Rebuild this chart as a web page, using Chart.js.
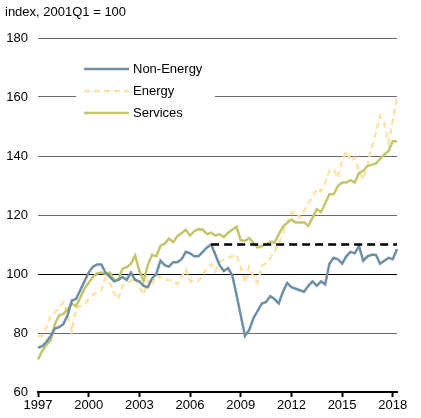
<!DOCTYPE html>
<html>
<head>
<meta charset="utf-8">
<script src="https://cdn.jsdelivr.net/npm/chart.js@4.4.1/dist/chart.umd.min.js"></script>
<style>
  body{margin:0;background:#fff;overflow:hidden;}
  #wrap{width:421px;height:418px;position:relative;}
</style>
</head>
<body>
<div id="wrap"><canvas id="chart"></canvas></div>
<script>
// quarterly, 1997Q1 - 2018Q2
let quarters = [];
for (let y = 1997; y <= 2018; y++) {
    for (let q = 1; q <= 4; q++) {
        if (y === 2018 && q > 2) { break; }
        quarters.push(y + "Q" + q);
    }
}

let tickYears = [1997, 2000, 2003, 2006, 2009, 2012, 2015, 2018];

let nonEnergy = [75, 75.5, 77, 79, 81.5, 82, 83, 86, 91, 91.5, 94.5, 97.5,
    100.5, 102.5, 103.2, 103.2, 100.5, 99, 97.5, 98, 99, 98, 100.5, 98,
    97.5, 96, 95.5, 98.5, 100, 104.5, 103, 102.5, 104, 104, 105, 107.5,
    107, 106, 106, 107.5, 109, 110, 106.5, 103, 101, 102, 99.5, 93,
    86, 79, 81, 85, 87.5, 90, 90.5, 92.5, 91.5, 90, 94, 97,
    95.5, 95, 94.5, 94, 96, 97.5, 96, 97.5, 96.5, 103.5, 105.5, 105,
    103.5, 106, 107.5, 107, 109.5, 104.5, 106, 106.5, 106.5, 103.5, 104.5, 105.5,
    105, 108.5];

let energy = [79, 79, 82, 86, 87, 88.5, 90.5, 86.5, 80.5, 88.5, 89, 90,
    91.5, 93, 93.7, 94.5, 98.8, 97, 93.5, 91.5, 96, 97, 97.6, 98.8,
    95.5, 93, 97.6, 96, 99.5, 99, 98.2, 98, 97.6, 96.5, 99, 101.6,
    97.5, 97.6, 97.6, 99.5, 102, 103.3, 101, 104, 105, 105.5, 106, 106.4,
    102.5, 97, 102.5, 99, 97, 102.7, 103.8, 105.5, 107.5, 110.5, 114, 117,
    120.8, 120.8, 119, 121.5, 124, 126, 129, 128, 131, 135, 135.5, 132.6,
    138.3, 141.7, 138.3, 139.4, 135, 132, 136.6, 142.8, 148, 153.6, 151.3, 144.5,
    152, 160];

let services = [71, 74, 76, 77.5, 83, 86, 86.5, 88, 90, 89, 92, 95,
    97, 99, 100.2, 100.5, 100, 100.5, 98, 98, 101.8, 102.3, 103.5, 106.3,
    101, 97.5, 103, 106.5, 106, 109.5, 110.3, 112, 110.8, 112.8, 113.8, 115,
    113, 114.5, 115.2, 115, 113.5, 114, 113, 113.5, 112.5, 114, 115, 116,
    111.5, 111.2, 112.2, 110.5, 109, 109.5, 110, 111, 110.6, 113.5, 116, 117.4,
    118.5, 117.5, 117.5, 117.5, 116.3, 119, 122, 121, 124, 127, 127, 129.8,
    131, 131, 131.8, 131, 134.3, 135, 136.6, 137, 137.5, 139, 140.5, 141.7,
    145, 145];

// pre-crisis peak of non-energy, carried forward
let refLevel = 110;
let refStart = "2007Q2";
let refLine = quarters.map(function(q, i){
    return i >= quarters.indexOf(refStart) ? refLevel : null;
});

let seriesNames = ["Non-Energy", "Energy", "Services"];
let colors = {
    nonEnergy: "#6f8fa4",
    energy: "#fde3a7",
    services: "#c3c66a"
};

const FONT = "'Liberation Sans', Arial, sans-serif";

// title + legend box drawn on the canvas
let decor = {
    id: "decor",
    afterDraw: function(chart){
        let ctx = chart.ctx;
        ctx.save();
        ctx.font = "13px " + FONT;
        ctx.fillStyle = "#000";
        ctx.textBaseline = "middle";
        ctx.textAlign = "left";
        ctx.fillText("index, 2001Q1 = 100", 5, 12);

        ctx.fillStyle = "#fff";
        ctx.fillRect(76, 56, 139, 68);

        let items = [
            {label: seriesNames[0], color: colors.nonEnergy, dash: []},
            {label: seriesNames[1], color: colors.energy, dash: [6, 4]},
            {label: seriesNames[2], color: colors.services, dash: []}
        ];
        items.forEach(function(it, k){
            let y = 69 + k * 22;
            ctx.beginPath();
            ctx.setLineDash(it.dash);
            ctx.lineWidth = 2.5;
            ctx.strokeStyle = it.color;
            ctx.moveTo(84, y);
            ctx.lineTo(129, y);
            ctx.stroke();
            ctx.setLineDash([]);
            ctx.fillStyle = "#000";
            ctx.fillText(it.label, 133, y);
        });
        ctx.restore();
    }
};

new Chart(document.getElementById("chart"), {
    type: "line",
    data: {
        labels: quarters,
        datasets: [
            {
                label: "ref",
                data: refLine,
                borderColor: "#000",
                borderWidth: 2.5,
                borderDash: [8, 5],
                pointRadius: 0,
                spanGaps: false
            },
            {
                label: seriesNames[0],
                data: nonEnergy,
                borderColor: colors.nonEnergy,
                borderWidth: 2.5,
                pointRadius: 0
            },
            {
                label: seriesNames[2],
                data: services,
                borderColor: colors.services,
                borderWidth: 2.5,
                pointRadius: 0
            },
            {
                label: seriesNames[1],
                data: energy,
                borderColor: colors.energy,
                borderWidth: 2.5,
                borderDash: [6, 4],
                pointRadius: 0
            }
        ]
    },
    options: {
        responsive: true,
        maintainAspectRatio: false,
        animation: false,
        layout: {padding: {top: 38, right: 24, bottom: 0, left: 0}},
        plugins: {
            legend: {display: false},
            tooltip: {enabled: false}
        },
        elements: {line: {tension: 0}},
        scales: {
            x: {
                offset: false,
                border: {color: "#000", width: 2},
                grid: {
                    drawOnChartArea: false,
                    drawTicks: true,
                    tickLength: 5,
                    tickWidth: 2,
                    tickColor: function(c){
                        let lab = c.tick ? c.tick.label : "";
                        return lab ? "#000" : "rgba(0,0,0,0)";
                    }
                },
                ticks: {
                    autoSkip: false,
                    maxRotation: 0,
                    padding: 1,
                    color: "#000",
                    font: {family: FONT, size: 13},
                    callback: function(v, i){
                        let q = quarters[i];
                        let yr = parseInt(q.slice(0, 4));
                        if (q.slice(4) === "Q1" && tickYears.indexOf(yr) >= 0) { return String(yr); }
                        return "";
                    }
                },
                afterFit: function(s){ s.height = 26; }
            },
            y: {
                min: 60,
                max: 180,
                border: {display: false},
                grid: {
                    drawTicks: false,
                    lineWidth: 1,
                    color: function(c){
                        if (c.tick && c.tick.value === 100) { return "#000"; }
                        return "#6b6b6b";
                    }
                },
                ticks: {
                    stepSize: 20,
                    padding: 10,
                    color: "#000",
                    font: {family: FONT, size: 13}
                },
                afterFit: function(s){ s.width = 38; }
            }
        }
    },
    plugins: [decor]
});
</script>
</body>
</html>
